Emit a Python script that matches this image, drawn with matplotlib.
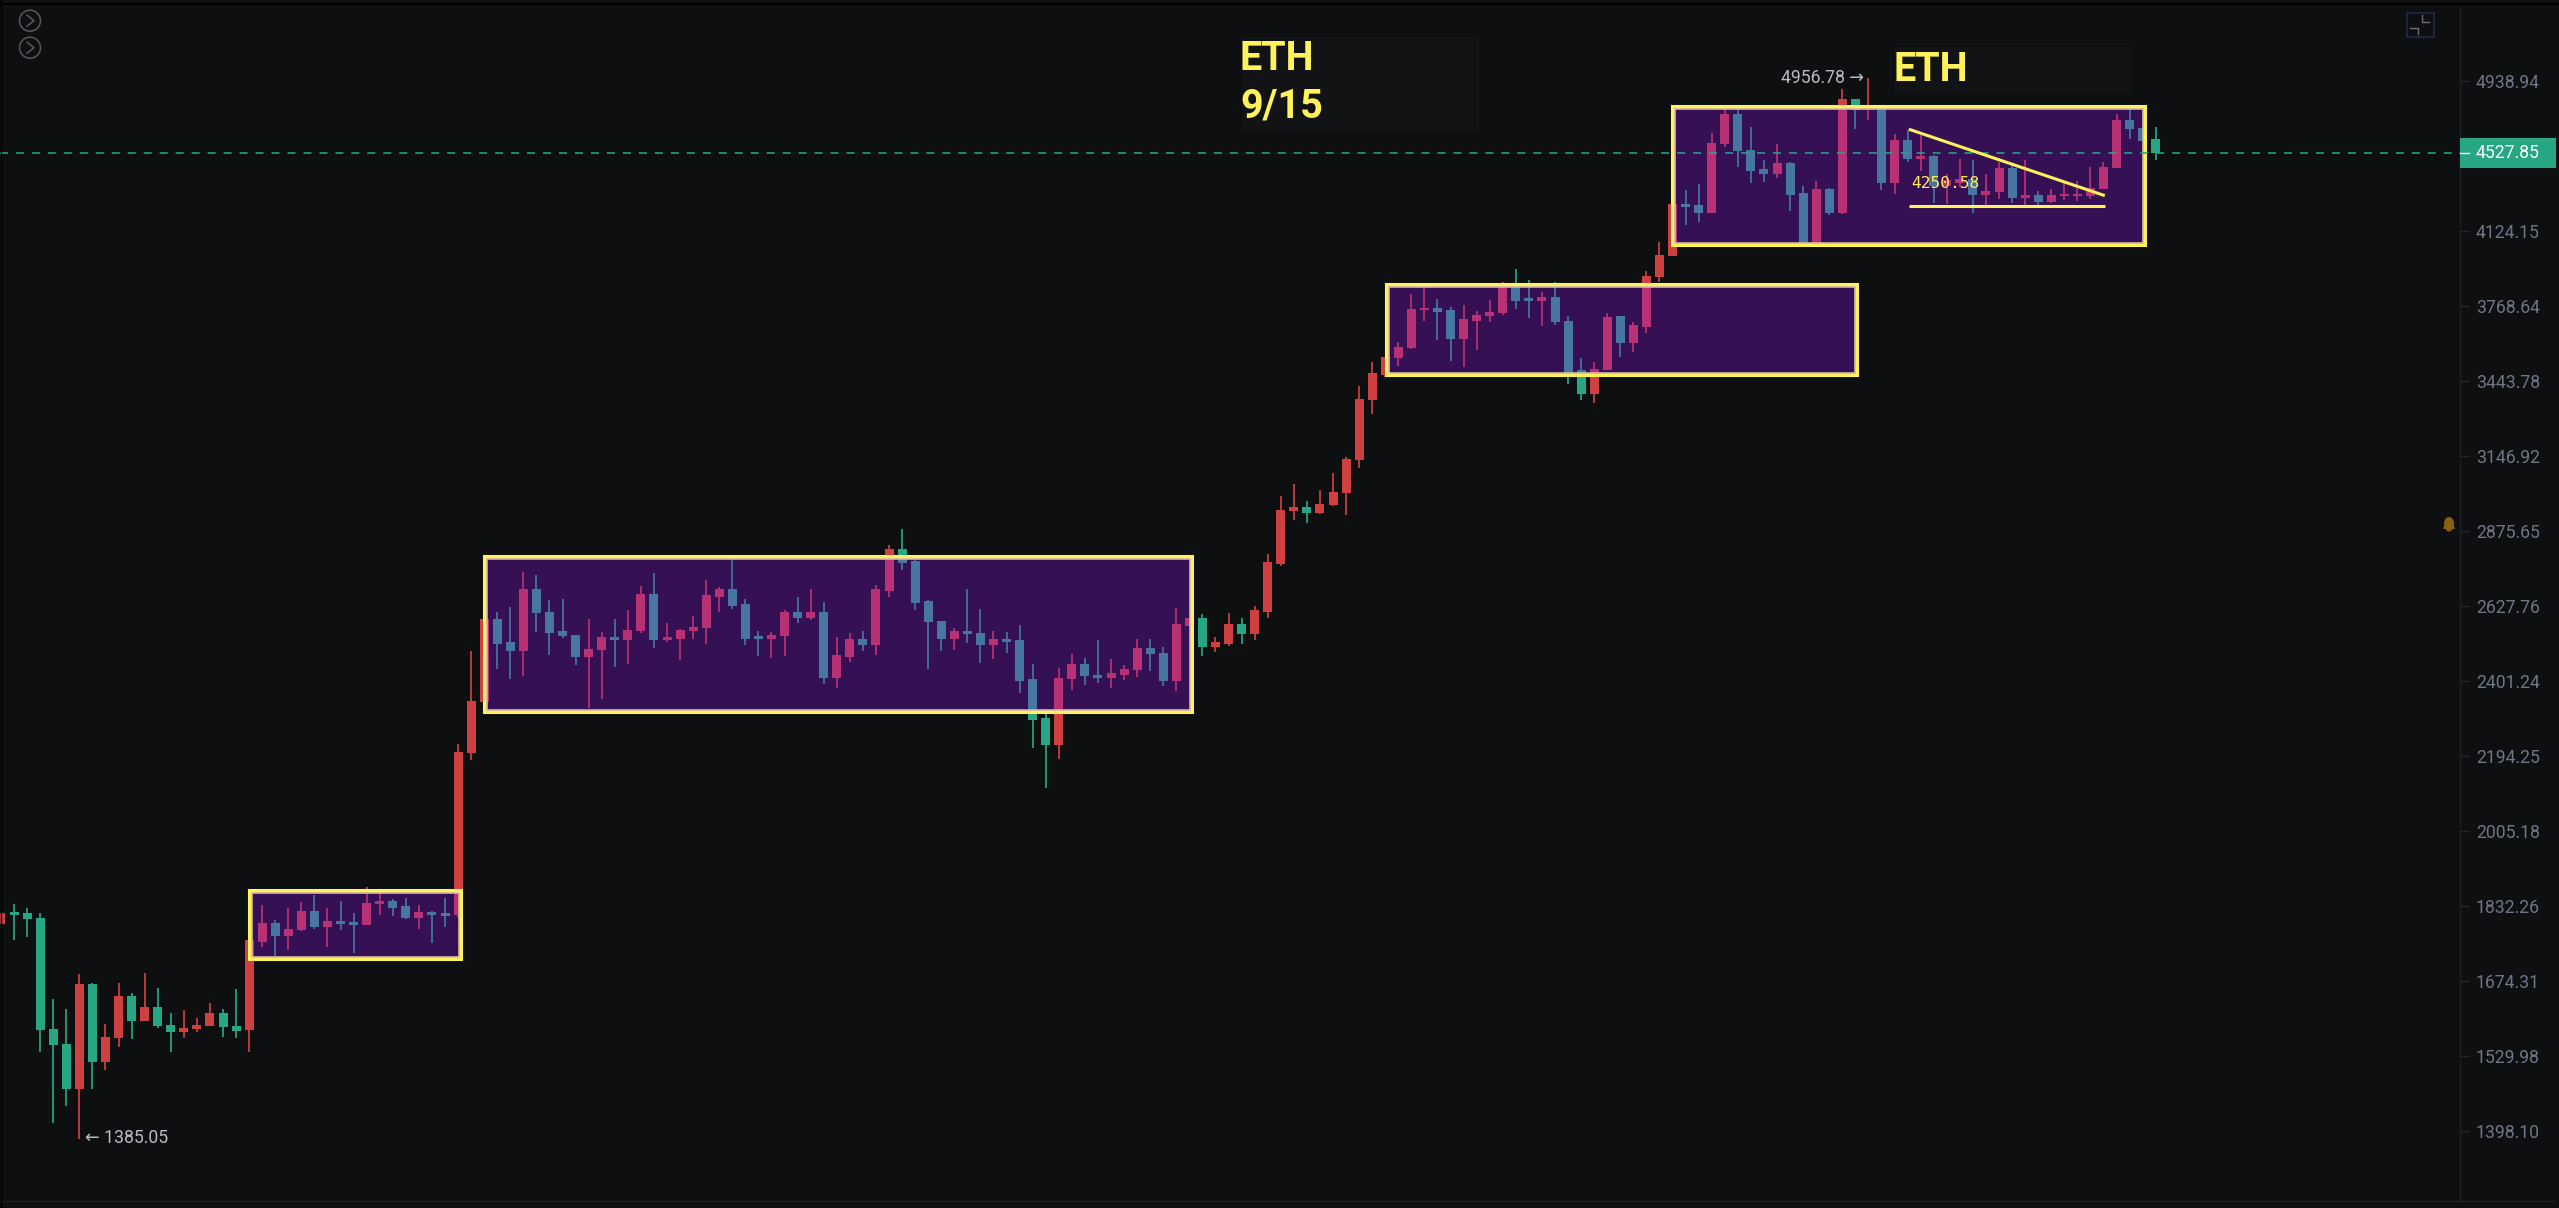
import numpy as np
import matplotlib
matplotlib.use('Agg')
import matplotlib.pyplot as plt
from matplotlib.lines import Line2D
from matplotlib.patches import Rectangle, Ellipse, Polygon
from matplotlib.transforms import blended_transform_factory

opens = [1794,1819,1816,1806,1580,1552,1471,1668,1520,1564,1644,1595,1623,1589,1575,1580,1586,1612,1586,1578,1755,1796,1768,1780,1822,1787,1800,1797,1790,1836,
         1843,1832,1807,1819,1816,1813,2203,2342,2586,2517,2490,2681,2608,2549,2539,2473,2494,2531,2522,2549,2666,2522,2527,2549,2558,2657,2681,2633,2535,2527,
         2536,2608,2591,2609,2411,2472,2526,2507,2676,2814,2774,2643,2581,2526,2549,2544,2507,2526,2522,2406,2296,2223,2406,2450,2419,2410,2419,2432,2498,2485,
         2401,2566,2590,2502,2512,2572,2540,2610,2765,2944,2959,2940,2966,3009,3131,3365,3469,3539,3583,3749,3761,3749,3622,3701,3722,3736,3870,3804,3790,3810,
         3701,3488,3389,3488,3722,3603,3676,3901,4001,4260,4253,4214,4579,4747,4546,4441,4417,4474,4315,4067,4338,4214,4833,4774,4783,4369,4603,4499,4513,4353,
         4371,4390,4308,4324,4449,4293,4307,4269,4300,4300,4300,4338,4450,4713,4670,4605]
highs = [1816,1836,1827,1816,1639,1619,1689,1670,1591,1670,1650,1691,1661,1612,1617,1601,1631,1619,1659,1759,1835,1802,1827,1842,1857,1828,1843,1816,1874,1871,
         1849,1850,1834,1821,1850,2226,2490,2586,2608,2624,2739,2726,2647,2650,2539,2587,2547,2588,2615,2693,2733,2576,2555,2598,2712,2690,2779,2649,2549,2548,
         2615,2655,2681,2640,2532,2544,2549,2694,2828,2881,2779,2647,2581,2560,2681,2619,2549,2547,2568,2450,2319,2439,2482,2469,2522,2465,2448,2525,2525,2501,
         2620,2590,2604,2531,2605,2590,2629,2797,2999,3042,2980,3021,3082,3144,3425,3523,3545,3609,3823,3857,3801,3764,3772,3748,3794,3881,3942,3887,3833,3879,
         3724,3539,3523,3737,3722,3698,3929,4070,4260,4333,4366,4640,4774,4774,4673,4492,4577,4481,4355,4378,4343,4890,4833,4956.78,4783,4634,4656,4629,4519,4415,
         4499,4492,4415,4481,4474,4490,4329,4336,4367,4381,4454,4481,4747,4774,4670,4671]
lows = [1794,1759,1765,1538,1411,1441,1385.05,1471,1504,1546,1562,1595,1583,1538,1563,1574,1586,1565,1564,1538,1745,1726,1739,1779,1783,1745,1781,1732,1790,1813,
        1810,1803,1783,1752,1787,1809,2184,2342,2436,2407,2416,2548,2477,2530,2447,2324,2349,2443,2452,2545,2499,2516,2464,2527,2510,2609,2619,2508,2476,2469,
        2476,2576,2584,2392,2382,2457,2490,2478,2656,2744,2615,2437,2489,2492,2515,2454,2466,2484,2367,2215,2112,2187,2375,2390,2395,2382,2405,2413,2431,2387,
        2373,2566,2475,2486,2504,2511,2524,2590,2756,2914,2903,2935,2963,2933,3102,3311,3459,3506,3579,3701,3616,3526,3502,3575,3697,3730,3754,3716,3679,3684,
        3431,3367,3354,3488,3546,3565,3648,3879,4001,4154,4167,4214,4564,4452,4369,4374,4394,4226,4064,4067,4204,4208,4660,4713,4334,4312,4483,4431,4267,4260,
        4350,4213,4255,4284,4265,4252,4238,4267,4282,4277,4284,4338,4450,4605,4595,4492]
closes = [1816,1813,1803,1578,1550,1471,1668,1520,1566,1644,1595,1623,1587,1575,1583,1589,1612,1584,1577,1758,1796,1768,1783,1822,1787,1800,1794,1790,1839,1843,
          1829,1806,1819,1813,1810,2205,2345,2586,2512,2490,2681,2605,2545,2536,2473,2497,2531,2522,2552,2666,2522,2531,2552,2561,2662,2681,2629,2527,2527,2539,
          2609,2591,2608,2411,2477,2526,2507,2681,2814,2768,2637,2577,2526,2549,2540,2507,2526,2517,2401,2291,2223,2410,2450,2415,2410,2424,2436,2498,2480,2401,
          2572,2590,2502,2517,2572,2540,2614,2769,2948,2959,2940,2971,3012,3134,3369,3476,3545,3589,3755,3761,3742,3622,3709,3728,3742,3876,3790,3790,3810,3695,
          3473,3389,3494,3721,3603,3682,3907,4007,4260,4245,4214,4586,4747,4539,4433,4417,4474,4307,4064,4336,4214,4833,4770,4789,4371,4603,4499,4511,4353,4383,
          4390,4308,4329,4449,4293,4307,4269,4307,4313,4313,4345,4456,4713,4662,4595,4527.85]

tick_values = [4938.94, 4124.15, 3768.64, 3443.78, 3146.92, 2875.65, 2627.76, 2401.24, 2194.25, 2005.18, 1832.26, 1674.31, 1529.98, 1398.10]
tick_labels = ['4938.94', '4124.15', '3768.64', '3443.78', '3146.92', '2875.65', '2627.76', '2401.24', '2194.25', '2005.18', '1832.26', '1674.31', '1529.98', '1398.10']
last_price = 4527.85
low_label = '← 1385.05'
high_label = '4956.78 →'

# consolidation boxes: first bar, last bar, top price, bottom price
boxes = [(19.07, 35.15, 1865.6, 1721), (37.06, 91.12, 2787, 2316), (106.13, 142.04, 3865, 3473), (128.03, 164.09, 4787, 4060)]
wedge_bars = [146.1, 161.1]
wedge_top = [4660.6, 4303]
wedge_floor = [4250.6, 4250.6]

BG = '#0d0f11'
RED = '#cf4040'
GREEN = '#26a682'
YELLOW = '#fff25a'
W, H = 2559, 1208

plt.rcParams['font.family'] = ['Roboto', 'DejaVu Sans']

def fx(x):
    return x / W

def fy(y):
    return 1 - y / H

fig = plt.figure(figsize=(W / 100, H / 100), dpi=100, facecolor=BG)
ax = fig.add_axes([0, 8 / H, 2460 / W, 1193 / H], facecolor=BG)

x = np.arange(len(opens))
o = np.array(opens, dtype=float)
c = np.array(closes, dtype=float)
colors = [RED if b >= a else GREEN for a, b in zip(o, c)]

ax.vlines(x, lows, highs, colors=colors, linewidth=1.25, zorder=2)
ax.bar(x, np.abs(c - o), bottom=np.minimum(o, c), width=9 / 13.06, color=colors, linewidth=0, zorder=3)

ax.set_yscale('log')
ax.set_xlim(-0.0766, 188.3)
ax.set_ylim(1287, 5398)

# boxes sit on top of the candles and tint them
for x0, x1, top, bottom in boxes:
    ax.add_patch(Rectangle((x0, bottom), x1 - x0, top - bottom, facecolor=(140 / 255, 21 / 255, 223 / 255, 0.33), edgecolor='none', zorder=4))
    ax.add_patch(Rectangle((x0, bottom), x1 - x0, top - bottom, fill=False, edgecolor='#dcbfa2', linewidth=3.3, zorder=5))
    ax.add_patch(Rectangle((x0 - 0.08, bottom * 0.9988), x1 - x0 + 0.16, top * 1.0012 - bottom * 0.9988, fill=False, edgecolor=YELLOW, linewidth=2.2, zorder=6))

ax.axhline(last_price, color=GREEN, linewidth=1.15, dashes=(5, 5), zorder=7)
ax.plot(wedge_bars, wedge_top, color=YELLOW, linewidth=2.2, zorder=8, solid_capstyle='butt')
ax.plot(wedge_bars, wedge_floor, color=YELLOW, linewidth=2.2, zorder=8, solid_capstyle='butt')

ax.annotate(low_label, (6, lows[6]), xytext=(4, 1), textcoords='offset points', color='#b8bcc2', fontsize=12.7, va='center', ha='left', zorder=9)
ax.annotate(high_label, (143, highs[143]), xytext=(-3, 0), textcoords='offset points', color='#b8bcc2', fontsize=12.7, va='center', ha='right', zorder=9)

# price axis on the right
for s in ['top', 'left', 'bottom']:
    ax.spines[s].set_visible(False)
ax.spines['right'].set_color('#1e2024')
ax.spines['right'].set_linewidth(1.0)
ax.set_xticks([])
ax.yaxis.tick_right()
ax.set_yticks(tick_values, tick_labels)
ax.minorticks_off()
ax.tick_params(axis='y', length=6.5, width=1.0, color='#24262a', labelcolor='#6f7686', labelsize=12.7, pad=5)

trans = blended_transform_factory(ax.transAxes, ax.transData)
ax.add_patch(Rectangle((1, last_price * 0.982), 96 / 2460, last_price * 0.036, transform=trans, facecolor=GREEN, edgecolor='none', clip_on=False, zorder=10))
ax.plot([1, 1 + 9 / 2460], [last_price, last_price], transform=trans, color='white', linewidth=1.0, clip_on=False, zorder=11)
ax.text(1 + 16 / 2460, last_price, '4527.85', transform=trans, color='white', fontsize=12.7, va='center', ha='left', zorder=11)

# frame lines
fig.add_artist(Line2D([0, fx(2556)], [fy(1200.7), fy(1200.7)], color='#1d1f22', linewidth=1.0))
fig.add_artist(Line2D([0, 1], [fy(4), fy(4)], color='#000000', linewidth=1.2))
fig.add_artist(Line2D([fx(0.7), fx(0.7)], [0, 1], color='#000000', linewidth=1.0))

# note boxes and text
fig.add_artist(Rectangle((fx(1242), fy(130)), 237 / W, 93 / H, transform=fig.transFigure, facecolor='#111315', edgecolor='none', zorder=1))
fig.add_artist(Rectangle((fx(1895), fy(93)), 237 / W, 46 / H, transform=fig.transFigure, facecolor='#111315', edgecolor='none', zorder=1))
fig.text(fx(1240), fy(70), 'ETH', color=YELLOW, fontsize=28.5, fontweight='bold', va='baseline')
fig.text(fx(1240), fy(117), '9/15', color=YELLOW, fontsize=28.5, fontweight='bold', va='baseline')
fig.text(fx(1893), fy(81), 'ETH', color=YELLOW, fontsize=28.5, fontweight='bold', va='baseline')
fig.text(fx(1911), fy(188), '4250.58', color='#ffec5c', fontsize=11.7, family='DejaVu Sans Mono', va='baseline')

# toolbar icons
for cy in [20.7, 47.7]:
    fig.add_artist(Ellipse((fx(30), fy(cy)), 21 / W, 21 / H, transform=fig.transFigure, fill=False, edgecolor='#56595d', linewidth=1.1))
    fig.add_artist(Line2D([fx(27), fx(34), fx(27)], [fy(cy - 5.5), fy(cy), fy(cy + 5.5)], color='#56595d', linewidth=1.1))
fig.add_artist(Rectangle((fx(2407), fy(36.7)), 27 / W, 24 / H, transform=fig.transFigure, fill=False, edgecolor='#252c4e', linewidth=1.1))
fig.add_artist(Line2D([fx(2421.7), fx(2421.7), fx(2428.7)], [fy(15), fy(22), fy(22)], color='#6a6d72', linewidth=1.0))
fig.add_artist(Line2D([fx(2410), fx(2418), fx(2418)], [fy(28), fy(28), fy(33.5)], color='#6a6d72', linewidth=1.0))

# alert bell
BELL = '#8a5f14'
fig.add_artist(Ellipse((fx(2449), fy(523.5)), 10 / W, 13 / H, transform=fig.transFigure, facecolor=BELL, edgecolor='none', zorder=4))
fig.add_artist(Polygon([(fx(2443), fy(529)), (fx(2455), fy(529)), (fx(2453), fy(524)), (fx(2445), fy(524))], transform=fig.transFigure, facecolor=BELL, edgecolor='none', zorder=4))
fig.add_artist(Ellipse((fx(2449), fy(529.5)), 6 / W, 4 / H, transform=fig.transFigure, facecolor=BELL, edgecolor='none', zorder=4))

fig.savefig('out.png', dpi=100, facecolor=BG)
